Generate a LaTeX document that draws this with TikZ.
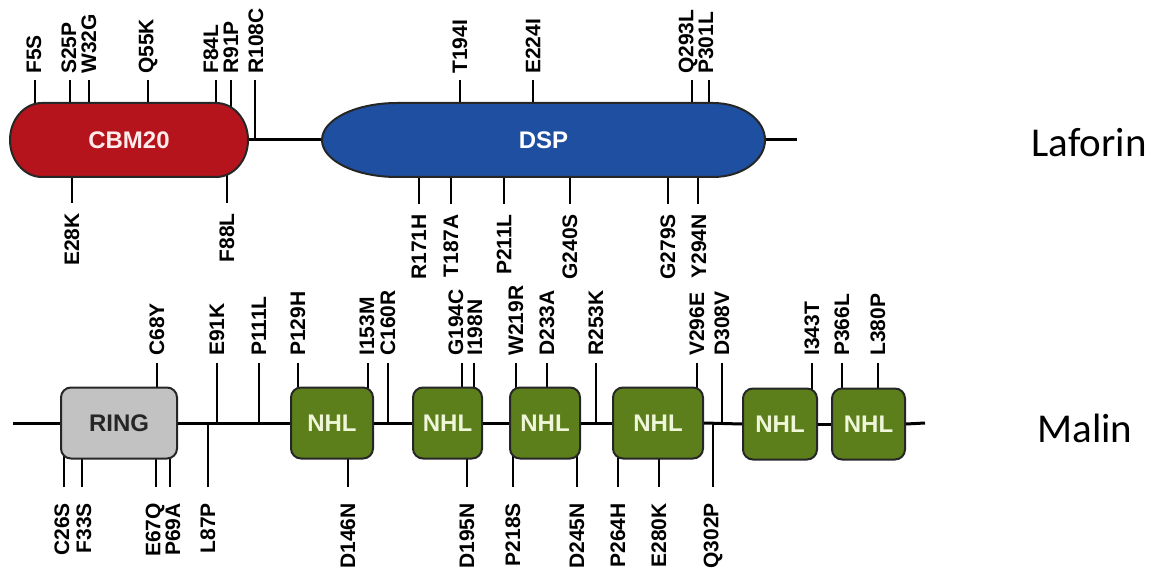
\documentclass[tikz,border=0pt]{standalone}
\usepackage{fontspec}
\setmainfont{Liberation Sans}
\newfontfamily\calibri{Carlito}
\definecolor{cbmred}{HTML}{B5141C}
\definecolor{dspblue}{HTML}{1F4FA0}
\definecolor{nhlgreen}{HTML}{5C7F1C}
\definecolor{ringgray}{HTML}{C2C2C2}
\definecolor{nhltext}{HTML}{EEF5D8}
\tikzset{
  mut/.style={rotate=90, inner sep=0pt, font=\fontsize{21}{21}\selectfont\bfseries},
  tickline/.style={line width=2.4pt},
  bone/.style={line width=3pt},
  dom/.style={draw=black!85, line width=2pt},
  domtext/.style={inner sep=0pt, font=\fontsize{24}{24}\selectfont\bfseries},
  mbox/.style={dom, rounded corners=10pt, minimum height=71pt, inner sep=0pt,
    font=\fontsize{24}{24}\selectfont\bfseries},
  nhl/.style={mbox, fill=nhlgreen, text=nhltext},
  protname/.style={font=\calibri\fontsize{41}{41}\selectfont, anchor=base}
}
% #1 name/text, #2 tick x, #3 label x, #4 label bottom y, #5 gap, #6 base y
\newcommand\mutU[6]{%
  \node[mut,anchor=west] (#1) at (#3,#4) {#1};
  \coordinate (#1-b) at (#2,#6);
  \path ([yshift=-#5pt]#1.west) coordinate (#1-a);
  \draw[tickline] (#1-a -| #1-b) -- (#1-b);}
% #1 name/text, #2 tick x, #3 label x, #4 label top y, #5 gap, #6 base y
\newcommand\mutD[6]{%
  \node[mut,anchor=east] (#1) at (#3,#4) {#1};
  \coordinate (#1-b) at (#2,#6);
  \path ([yshift=#5pt]#1.east) coordinate (#1-a);
  \draw[tickline] (#1-a -| #1-b) -- (#1-b);}
\begin{document}
\begin{tikzpicture}[x=1pt,y=-1pt]
\useasboundingbox (0,0) rectangle (1156,572);
% ---------------- Laforin ----------------
\mutU{F5S}{35}{34}{74}{6}{140}
\mutU{S25P}{70}{69}{74}{6}{140}
\mutU{W32G}{89}{89}{74}{6}{140}
\mutU{Q55K}{148}{148}{74}{6}{140}
\mutU{F84L}{216}{211}{74}{6}{140}
\mutU{R91P}{231}{231}{74}{6}{140}
\mutU{R108C}{255}{256}{74}{6}{140}
\mutU{T194I}{460}{460}{74}{6}{140}
\mutU{E224I}{533}{533}{74}{6}{140}
\mutU{Q293L}{692}{688}{74}{6}{140}
\mutU{P301L}{709}{706}{74}{6}{140}
\mutD{E28K}{72}{72}{213}{10}{140}
\mutD{F88L}{227}{227}{213}{10}{140}
\mutD{R171H}{419}{419}{214}{10}{140}
\mutD{T187A}{451}{451}{214}{10}{140}
\mutD{P211L}{504}{504}{214}{10}{140}
\mutD{G240S}{570}{570}{214}{10}{140}
\mutD{G279S}{668}{668}{214}{10}{140}
\mutD{Y294N}{698}{699}{214}{10}{140}
\coordinate (lafend) at (797,140);
\node[domtext, minimum width=238pt, minimum height=74pt] (cbm) at (129,140) {};
\node[domtext, minimum width=443pt, minimum height=74pt] (dsp) at (543.5,140) {};
\draw[bone] (cbm.east) -- (dsp.west);
\draw[bone] (dsp.east) -- (lafend);
\path[dom, fill=cbmred] (42,103) -- (216,103)
  arc[start angle=-90, end angle=90, x radius=32, y radius=37] -- (42,177)
  arc[start angle=90, end angle=270, x radius=32, y radius=37] -- cycle;
\path[dom, fill=dspblue] (397,103) -- (713,103)
  arc[start angle=-90, end angle=90, x radius=52, y radius=37] -- (397,177)
  arc[start angle=90, end angle=270, x radius=75, y radius=37] -- cycle;
\node[domtext, text=white!92!red] at (cbm.center) {CBM20};
\node[domtext, text=white] at (dsp.center) {DSP};
\node[protname] (laforin) at (1089,157) {Laforin};
% ---------------- Malin ----------------
\mutU{C68Y}{157}{157}{356}{7}{423}
\mutU{E91K}{217}{217}{356}{7}{423}
\mutU{P111L}{259}{259}{356}{7}{423}
\mutU{P129H}{298}{298}{356}{7}{423}
\mutU{I153M}{368}{367}{356}{7}{423}
\mutU{C160R}{388}{388}{356}{7}{423}
\mutU{G194C}{462}{456}{356}{7}{423}
\mutU{I198N}{474}{475}{356}{7}{423}
\mutU{W219R}{516}{516}{356}{7}{423}
\mutU{D233A}{547}{547}{356}{7}{423}
\mutU{R253K}{596}{596}{356}{7}{423}
\mutU{V296E}{697}{697}{356}{7}{423}
\mutU{D308V}{722}{722}{356}{7}{423}
\mutU{I343T}{812}{812}{356}{7}{423}
\mutU{P366L}{842}{842}{356}{7}{423}
\mutU{L380P}{878}{878}{356}{7}{423}
\mutD{C26S}{64}{62}{503}{16}{423}
\mutD{F33S}{82}{84}{503}{16}{423}
\mutD{E67Q}{156}{155}{503}{16}{423}
\mutD{P69A}{170}{173}{503}{16}{423}
\mutD{L87P}{208}{208}{503}{16}{423}
\mutD{D146N}{348}{348}{503}{16}{423}
\mutD{D195N}{467}{467}{503}{16}{423}
\mutD{P218S}{513}{513}{503}{16}{423}
\mutD{D245N}{577}{577}{503}{16}{423}
\mutD{P264H}{618}{618}{503}{16}{423}
\mutD{E280K}{659}{659}{503}{16}{423}
\mutD{Q302P}{713}{713}{503}{16}{423}
\coordinate (mstart) at (13,423);
\coordinate (mend) at (925,423);
\node[mbox, fill=ringgray, text=black!85, minimum width=116pt] (ring) at (119,423) {RING};
\node[nhl, minimum width=82pt] (n1) at (332,423) {NHL};
\node[nhl, minimum width=69pt] (n2) at (447.5,423) {NHL};
\node[nhl, minimum width=70pt] (n3) at (545,423) {NHL};
\node[nhl, minimum width=90pt] (n4) at (658,423) {NHL};
\node[nhl, minimum width=74pt] (n5) at (780,424) {NHL};
\node[nhl, minimum width=73pt] (n6) at (868.5,424) {NHL};
\draw[bone] (mstart) -- (ring.west);
\draw[bone] (ring.east) -- (n1.west);
\draw[bone] (n1.east) -- (n2.west);
\draw[bone] (n2.east) -- (n3.west);
\draw[bone] (n3.east) -- (n4.west);
\draw[bone] (n4.east) -- (n5.west);
\draw[bone] (n5.east) -- (n6.west);
\draw[bone] (n6.east) -- (mend);
\node[protname] (malin) at (1085,442) {Malin};
\end{tikzpicture}
\end{document}
